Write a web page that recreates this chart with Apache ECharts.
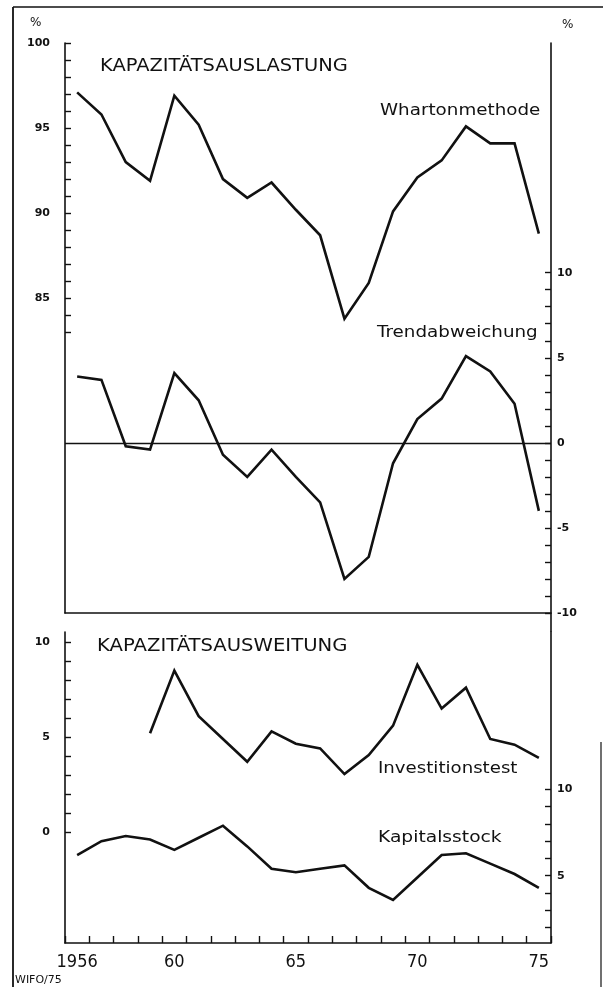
<!DOCTYPE html>
<html>
<head>
<meta charset="utf-8">
<script src="https://cdn.jsdelivr.net/npm/echarts@6/dist/echarts.min.js"></script>
<style>
  html, body { margin: 0; padding: 0; background: #fff; }
  #chart { width: 603px; height: 987px; }
</style>
</head>
<body>
<div id="chart"></div>
<script>
// years on the horizontal axis and which of them get a label
const years = ['1956', '1957', '1958', '1959', '1960', '1961', '1962', '1963', '1964', '1965',
    '1966', '1967', '1968', '1969', '1970', '1971', '1972', '1973', '1974', '1975'];
const yearTickAt = ['1956', '1960', '1965', '1970', '1975'];
const yearTickText = ['1956', '60', '65', '70', '75'];

// Kapazitätsauslastung, Whartonmethode (left scale, %)
const wharton = [97.1, 95.8, 93.0, 91.9, 96.9, 95.2, 92.0, 90.9, 91.8, 90.2,
    88.7, 83.8, 85.9, 90.1, 92.1, 93.1, 95.1, 94.1, 94.1, 88.8];
// Trendabweichung (right scale, %)
const trend = [3.9, 3.7, -0.2, -0.4, 4.1, 2.5, -0.7, -2.0, -0.4, -2.0,
    -3.5, -8.0, -6.7, -1.2, 1.4, 2.6, 5.1, 4.2, 2.3, -4.0];
// Kapazitätsausweitung, Investitionstest (left scale, %)
const invest = [null, null, null, 5.2, 8.5, 6.1, 4.9, 3.7, 5.3, 4.65,
    4.4, 3.05, 4.05, 5.6, 8.8, 6.5, 7.6, 4.9, 4.6, 3.9];
// Kapitalsstock (right scale, %)
const kapital = [6.2, 7.0, 7.3, 7.1, 6.5, 7.2, 7.9, 6.7, 5.4, 5.2,
    5.4, 5.6, 4.3, 3.6, 4.9, 6.2, 6.3, 5.7, 5.1, 4.3];

// tick marks and tick labels of the four value scales
const upperLeftTicks = [83, 84, 85, 86, 87, 88, 89, 90, 91, 92, 93, 94, 95, 96, 97, 98, 99, 100];
const upperLeftLabels = [85, 90, 95, 100];
const upperRightTicks = [-10, -9, -8, -7, -6, -5, -4, -3, -2, -1, 0, 1, 2, 3, 4, 5, 6, 7, 8, 9, 10];
const upperRightLabels = [-10, -5, 0, 5, 10];
const lowerLeftTicks = [0, 1, 2, 3, 4, 5, 6, 7, 8, 9, 10];
const lowerLeftLabels = [0, 5, 10];
const lowerRightTicks = [2, 3, 4, 5, 6, 7, 8, 9, 10];
const lowerRightLabels = [5, 10];

const INK = '#111';
const chart = echarts.init(document.getElementById('chart'));

function valueAxis(grid, pos, min, max, ticks, labels, margin) {
    return {
        type: 'value',
        gridIndex: grid,
        position: pos,
        min: min,
        max: max,
        axisLine: { show: true, onZero: false, lineStyle: { color: INK, width: 1.6 } },
        axisTick: { show: true, inside: true, length: 6, customValues: ticks, lineStyle: { color: INK, width: 1.4 } },
        axisLabel: {
            customValues: labels,
            margin: margin,
            color: INK,
            fontSize: 11,
            fontWeight: 'bold',
            fontFamily: 'DejaVu Sans'
        },
        splitLine: { show: false }
    };
}

function line(name, xi, yi, data) {
    return {
        name: name,
        type: 'line',
        xAxisIndex: xi,
        yAxisIndex: yi,
        data: data,
        symbol: 'none',
        connectNulls: false,
        lineStyle: { color: INK, width: 2.6, join: 'miter' }
    };
}

function text(str, x, y, size, sx) {
    return {
        type: 'text',
        x: x,
        y: y,
        scaleX: sx,
        silent: true,
        style: {
            text: str,
            x: 0,
            y: 0,
            fill: INK,
            font: size + 'px "DejaVu Sans"',
            align: 'left',
            verticalAlign: 'middle'
        }
    };
}

function rule(x1, y1, x2, y2, w) {
    return {
        type: 'line',
        silent: true,
        shape: { x1: x1, y1: y1, x2: x2, y2: y2 },
        style: { stroke: INK, lineWidth: w }
    };
}

const trendSeries = line('Trendabweichung', 0, 1, trend);
trendSeries.markLine = {
    silent: true,
    symbol: 'none',
    label: { show: false },
    lineStyle: { color: INK, width: 1.3, type: 'solid' },
    data: [{ yAxis: 0 }]
};

const options = {
    animation: false,
    backgroundColor: '#fff',
    grid: [
        { left: 65, right: 52, top: 43, height: 570 },
        { left: 65, right: 52, top: 632, height: 311 }
    ],
    xAxis: [
        {
            type: 'category',
            gridIndex: 0,
            data: years,
            boundaryGap: true,
            axisLine: { onZero: false, lineStyle: { color: INK, width: 1.6 } },
            axisTick: { show: false },
            axisLabel: { show: false }
        },
        {
            type: 'category',
            gridIndex: 1,
            data: years,
            boundaryGap: true,
            axisLine: { onZero: false, lineStyle: { color: INK, width: 1.6 } },
            axisTick: { show: true, inside: true, length: 7, interval: 0, lineStyle: { color: INK, width: 1.4 } },
            axisLabel: {
                interval: function (i, v) { return yearTickAt.indexOf(v) >= 0; },
                formatter: function (v) { return yearTickText[yearTickAt.indexOf(v)]; },
                margin: 10,
                color: INK,
                fontSize: 18,
                fontFamily: '"Liberation Sans Narrow", "DejaVu Sans Condensed", sans-serif'
            }
        }
    ],
    yAxis: [
        valueAxis(0, 'left', 66.5, 100, upperLeftTicks, upperLeftLabels, 15),
        valueAxis(0, 'right', -10, 23.5, upperRightTicks, upperRightLabels, 6),
        valueAxis(1, 'left', -5.84, 10.53, lowerLeftTicks, lowerLeftLabels, 15),
        valueAxis(1, 'right', 1.1, 19.13, lowerRightTicks, lowerRightLabels, 6)
    ],
    series: [
        line('Whartonmethode', 0, 0, wharton),
        trendSeries,
        line('Investitionstest', 1, 2, invest),
        line('Kapitalsstock', 1, 3, kapital)
    ],
    graphic: [
        rule(13, 7, 603, 7, 1.6),
        rule(13, 7, 13, 987, 1.8),
        rule(601, 742, 601, 987, 1.2),
        rule(551, 613, 551, 632, 1.6),
        text('%', 30, 23, 12, 1),
        text('%', 562, 25, 12, 1),
        text('KAPAZITÄTSAUSLASTUNG', 100, 66, 18, 1.08),
        text('Whartonmethode', 380, 111, 15, 1.22),
        text('Trendabweichung', 377, 333, 15, 1.22),
        text('KAPAZITÄTSAUSWEITUNG', 97, 646, 18, 1.09),
        text('Investitionstest', 378, 769, 15, 1.21),
        text('Kapitalsstock', 378, 838, 15, 1.245),
        text('WIFO/75', 15, 980, 11, 1)
    ]
};

chart.setOption(options);
</script>
</body>
</html>
